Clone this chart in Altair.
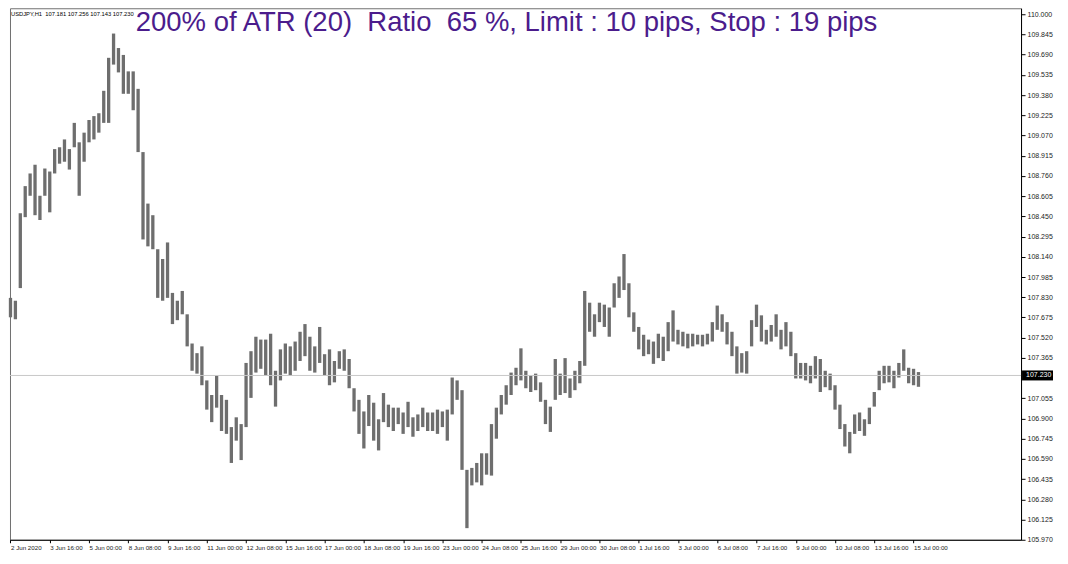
import altair as alt
import pandas as pd

# 4-hour high/low ranges (2 Jun - 15 Jul 2020)
highs = [107.825, 107.803, 108.474, 108.682, 108.779, 108.846, 108.608, 108.817, 108.794, 108.966,
         108.980, 109.040, 108.966, 109.167, 109.018, 109.092, 109.189, 109.219, 109.241, 109.413,
         109.666, 109.852, 109.741, 109.688, 109.562, 109.562, 109.428, 108.943, 108.548, 108.459,
         108.198, 108.123, 108.250, 107.863, 107.803, 107.878, 107.699, 107.475, 107.401, 107.453,
         107.192, 107.080, 107.229, 107.080, 107.043, 106.834, 106.909, 106.857, 107.326, 107.416,
         107.527, 107.505, 107.505, 107.550, 107.266, 107.430, 107.475, 107.453, 107.490, 107.565,
         107.624, 107.527, 107.453, 107.602, 107.393, 107.430, 107.341, 107.416, 107.430, 107.356,
         107.132, 107.043, 106.954, 107.080, 107.021, 106.894, 107.095, 107.006, 106.983, 106.983,
         106.946, 107.028, 106.909, 106.931, 106.983, 106.946, 106.946, 106.968, 106.954, 106.968,
         107.214, 107.192, 107.117, 106.506, 106.521, 106.559, 106.633, 106.633, 106.857, 106.983,
         107.080, 107.155, 107.252, 107.289, 107.438, 107.266, 107.229, 107.244, 107.177, 107.043,
         106.991, 107.356, 107.244, 107.363, 107.207, 107.266, 107.341, 107.878, 107.788, 107.699,
         107.788, 107.773, 107.751, 107.937, 107.989, 108.161, 107.937, 107.714, 107.602, 107.542,
         107.505, 107.490, 107.550, 107.527, 107.639, 107.729, 107.580, 107.565, 107.550, 107.550,
         107.542, 107.542, 107.550, 107.639, 107.766, 107.699, 107.639, 107.565, 107.453, 107.401,
         107.416, 107.654, 107.773, 107.691, 107.580, 107.617, 107.699, 107.580, 107.639, 107.565,
         107.401, 107.326, 107.326, 107.304, 107.378, 107.356, 107.266, 107.244, 107.155, 107.006,
         106.857, 106.797, 106.931, 106.946, 106.894, 106.983, 107.103, 107.266, 107.304, 107.304,
         107.266, 107.326, 107.430, 107.289, 107.281, 107.256]

lows = [107.676, 107.661, 107.900, 108.444, 108.608, 108.459, 108.422, 108.608, 108.481, 108.779,
        108.854, 108.869, 108.809, 108.980, 108.608, 108.869, 109.018, 109.040, 109.092, 109.167,
        109.167, 109.614, 109.554, 109.390, 109.390, 109.264, 108.943, 108.273, 108.220, 108.198,
        107.825, 107.803, 107.825, 107.624, 107.654, 107.699, 107.453, 107.266, 107.244, 107.155,
        106.968, 106.872, 106.983, 106.804, 106.782, 106.559, 106.730, 106.581, 106.834, 107.058,
        107.252, 107.281, 107.229, 107.155, 106.991, 107.192, 107.244, 107.229, 107.266, 107.341,
        107.378, 107.266, 107.252, 107.326, 107.229, 107.155, 107.177, 107.281, 107.266, 107.132,
        106.954, 106.782, 106.670, 106.842, 106.730, 106.655, 106.872, 106.834, 106.804, 106.857,
        106.782, 106.834, 106.760, 106.804, 106.834, 106.804, 106.804, 106.782, 106.834, 106.730,
        106.931, 107.043, 106.506, 106.059, 106.387, 106.410, 106.387, 106.469, 106.462, 106.745,
        106.931, 107.006, 107.080, 107.155, 107.192, 107.132, 107.103, 107.117, 107.028, 106.857,
        106.797, 107.043, 107.080, 107.095, 107.058, 107.117, 107.170, 107.304, 107.565, 107.527,
        107.639, 107.602, 107.527, 107.751, 107.825, 107.885, 107.676, 107.565, 107.430, 107.378,
        107.393, 107.319, 107.363, 107.341, 107.416, 107.490, 107.468, 107.453, 107.438, 107.453,
        107.468, 107.453, 107.468, 107.490, 107.580, 107.565, 107.468, 107.378, 107.244, 107.252,
        107.244, 107.453, 107.602, 107.490, 107.468, 107.490, 107.527, 107.430, 107.453, 107.378,
        107.207, 107.207, 107.192, 107.170, 107.207, 107.103, 107.140, 107.117, 106.968, 106.819,
        106.685, 106.633, 106.782, 106.804, 106.767, 106.857, 106.991, 107.117, 107.170, 107.177,
        107.132, 107.214, 107.266, 107.170, 107.155, 107.143]

x_tick_labels = ["2 Jun 2020", "3 Jun 16:00", "5 Jun 00:00", "8 Jun 08:00", "9 Jun 16:00",
                 "11 Jun 00:00", "12 Jun 08:00", "15 Jun 16:00", "17 Jun 00:00", "18 Jun 08:00",
                 "19 Jun 16:00", "23 Jun 00:00", "24 Jun 08:00", "25 Jun 16:00", "29 Jun 00:00",
                 "30 Jun 08:00", "1 Jul 16:00", "3 Jul 00:00", "6 Jul 08:00", "7 Jul 16:00",
                 "9 Jul 00:00", "10 Jul 08:00", "13 Jul 16:00", "15 Jul 00:00"]
x_tick_values = [0, 8, 16, 24, 32, 40, 48, 56, 64, 72, 80, 88, 96, 104, 112, 120,
                 128, 136, 144, 152, 160, 168, 176, 184]
y_tick_values = [105.970, 106.125, 106.280, 106.435, 106.590, 106.745, 106.900, 107.055,
                 107.365, 107.520, 107.675, 107.830, 107.985, 108.140, 108.295, 108.450,
                 108.605, 108.760, 108.915, 109.070, 109.225, 109.380, 109.535, 109.690,
                 109.845, 110.000]
current_price = [107.230]
title_text = ["200% of ATR (20)\u00a0\u00a0Ratio\u00a0\u00a065 %, Limit : 10 pips, Stop : 19 pips"]
info_text = ["USDJPY,H1\u00a0\u00a0107.181 107.256 107.143 107.230"]

W, H = 1012, 532
FONT = "Liberation Sans"
NARROW = "Liberation Sans Narrow, Liberation Sans"

df = pd.DataFrame({"idx": list(range(len(highs))), "high": highs, "low": lows})

labels_js = "[" + ",".join("'" + s + "'" for s in x_tick_labels) + "]"

xscale = alt.Scale(domain=[-0.1, 205.9], nice=False, zero=False)
yscale = alt.Scale(domain=[105.970, 110.046], nice=False, zero=False)

y_axis = alt.Axis(orient="right", values=y_tick_values, tickCount=40, format=".3f",
                  grid=False, labelFont=FONT, labelFontSize=7, labelOverlap=False,
                  labelFlush=False, labelPadding=2, tickSize=4)

bars = alt.Chart(df).mark_rule(color="#6e6e6e", strokeWidth=3.3).encode(
    x=alt.X("idx:Q", scale=xscale, title=None,
            axis=alt.Axis(values=x_tick_values, tickCount=40,
                          labelExpr=labels_js + "[round(datum.value/8)]",
                          orient="bottom", grid=False, labelAlign="left",
                          labelFont=NARROW, labelFontSize=6.2, labelOverlap=False,
                          labelFlush=False, labelPadding=2, tickSize=3)),
    y=alt.Y("low:Q", scale=yscale, title=None, axis=y_axis),
    y2="high:Q",
)

price_line = alt.Chart(pd.DataFrame({"p": current_price})).mark_rule(
    color="#c8c8c8", strokeWidth=1
).encode(y=alt.Y("p:Q", scale=yscale, title=None, axis=y_axis))

tag_box = alt.Chart(pd.DataFrame({"p": current_price})).mark_rule(
    color="#000000", strokeWidth=10
).encode(y=alt.Y("p:Q", scale=yscale, title=None, axis=y_axis),
         x=alt.value(W + 1), x2=alt.value(W + 32))

tag_text = alt.Chart(pd.DataFrame({"p": current_price})).mark_text(
    color="#ffffff", fontSize=7, font=FONT, align="left", baseline="middle"
).encode(y=alt.Y("p:Q", scale=yscale, title=None, axis=y_axis), x=alt.value(W + 5),
         text=alt.Text("p:Q", format=".3f"))

title = alt.Chart(pd.DataFrame({"t": title_text})).mark_text(
    color="#4b1c8c", fontSize=27.5, font=FONT, align="center", baseline="middle"
).encode(text="t:N", x=alt.value(497), y=alt.value(15))

info = alt.Chart(pd.DataFrame({"t": info_text})).mark_text(
    color="#000000", fontSize=5.8, font=FONT, align="left", baseline="middle"
).encode(text="t:N", x=alt.value(1), y=alt.value(6))

chart = alt.layer(bars, price_line, tag_box, tag_text, title, info).properties(
    width=W, height=H, background="#ffffff",
    padding={"left": 0, "top": 0, "right": 2, "bottom": 0}
).configure_view(
    stroke="#707070", strokeWidth=1
).configure_axis(
    labelColor="#222222", tickColor="#000000", domainColor="#000000"
)

chart.save("out.html", embed_options={"renderer": "svg", "actions": False})
